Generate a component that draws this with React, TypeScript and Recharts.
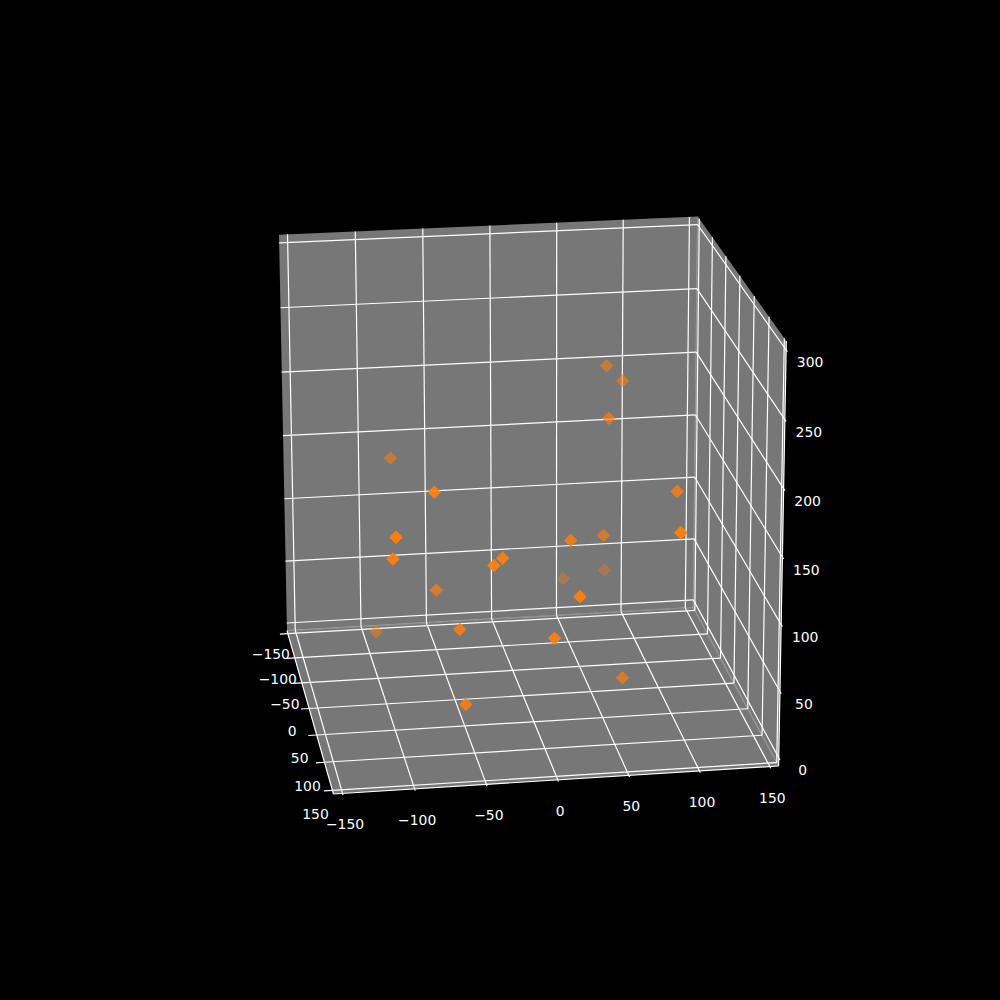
import React from 'react';
import { ScatterChart, Scatter, XAxis, YAxis, ReferenceArea, ReferenceLine } from 'recharts';

const xTicks = [-150, -100, -50, 0, 50, 100, 150];
const yTicks = [-150, -100, -50, 0, 50, 100, 150];
const zTicks = [0, 50, 100, 150, 200, 250, 300];

const xValues = [70, 82, 65, -86, -72, -104, -104, -61, -33, -24, -96, -52, -48, 13, 76, 31, 65, 54, 86, 28, 108, 96];
const yValues = [-54, -54, -15, -73, 62, 100, 81, -15, 81, 62, -92, 42, 42, 62, -15, 23, -35, -150, -150, 81, 23, 100];
const zValues = [226, 214, 199, 157, 177, 159, 136, 74, 127, 125, 14, 65, 7, 62, -3, 121, 102, 26, 31, 100, 154, 151];

const lim = 156.25;
const zLo = -6.25;
const zHi = 306.25;

// Screen positions of the box corners: they define the perspective camera.
const C = [287, 630.7], D = [693.3, 607.5], F = [778.6, 766], E = [333.5, 794], A = [279, 234.7], B = [697.7, 216.7];
const dx1 = D[0] - F[0], dx2 = E[0] - F[0], sx0 = C[0] - D[0] + F[0] - E[0];
const dy1 = D[1] - F[1], dy2 = E[1] - F[1], sy0 = C[1] - D[1] + F[1] - E[1];
const den = dx1 * dy2 - dx2 * dy1;
const g = (sx0 * dy2 - dx2 * sy0) / den, h = (dx1 * sy0 - sx0 * dy1) / den;
const a = D[0] - C[0] + g * D[0], b = E[0] - C[0] + h * E[0], c = C[0];
const d = D[1] - C[1] + g * D[1], e = E[1] - C[1] + h * E[1], f = C[1];
const m1 = (a - B[0] * g) / (B[0] - A[0]);
const m = m1 - 1;
const k = A[0] * m1 - c, l = A[1] * m1 - f;

function project(x: number, y: number, z: number) {
  const u = (x + lim) / (2 * lim), v = (y + lim) / (2 * lim), w = (z - zLo) / (zHi - zLo);
  const q = g * u + h * v + m * w + 1;
  return { sx: (a * u + b * v + k * w + c) / q, sy: (d * u + e * v + l * w + f) / q };
}

const fmt = (t: number) => (t < 0 ? '\u2212' + Math.abs(t) : String(t));

type Seg = [number, number, number, number, number, number];
const grid: Seg[] = [];
xTicks.forEach(t => {
  grid.push([t, -lim, zLo, t, lim, zLo], [t, -lim, zLo, t, -lim, zHi], [t, lim, zLo, t, lim + 3, zLo]);
});
yTicks.forEach(t => {
  grid.push([-lim, t, zLo, lim, t, zLo], [lim, t, zLo, lim, t, zHi], [-lim, t, zLo, -lim - 6, t, zLo]);
});
zTicks.forEach(t => {
  grid.push([-lim, -lim, t, lim, -lim, t], [lim, -lim, t, lim, lim, t], [lim, lim, t, lim, lim + 4, t]);
});
const axes: Seg[] = [[-lim, lim, zLo, lim, lim, zLo], [-lim, -lim, zLo, -lim, lim, zLo], [lim, lim, zLo, lim, lim, zHi]];
const paneEdges: Seg[] = [[-lim, -lim, zLo, lim, -lim, zLo], [lim, -lim, zLo, lim, lim, zLo], [lim, -lim, zLo, lim, -lim, zHi]];
const panes = [
  [[-lim, -lim, zLo], [lim, -lim, zLo], [lim, -lim, zHi], [-lim, -lim, zHi]],
  [[-lim, -lim, zLo], [lim, -lim, zLo], [lim, lim, zLo], [-lim, lim, zLo]],
  [[lim, -lim, zLo], [lim, lim, zLo], [lim, lim, zHi], [lim, -lim, zHi]],
];

const labels = [
  ...xTicks.map(t => { const p = project(t, lim, zLo); return { sx: p.sx + 2.5, sy: p.sy + 31, text: fmt(t) }; }),
  ...yTicks.map(t => { const p = project(-lim, t, zLo); return { sx: p.sx - 17, sy: p.sy + 22 + (2 * t) / 150, text: fmt(t) }; }),
  ...zTicks.map(t => { const p = project(lim, lim, t); return { sx: p.sx + 24, sy: p.sy + 12.5, text: fmt(t) }; }),
];
const points = xValues.map((x, i) => ({ ...project(x, yValues[i], zValues[i]), depth: yValues[i] }));

const paneShape = (pts: { sx: number; sy: number }[], x1: number, x2: number, y1: number, y2: number) => (p: any) => {
  const s = pts.map(q => `${p.x + ((q.sx - x1) / (x2 - x1)) * p.width},${p.y + ((q.sy - y1) / (y2 - y1)) * p.height}`).join(' ');
  return <polygon points={s} fill="#777777" />;
};
const line = (s: Seg, key: string, opacity: number) => {
  const p = project(s[0], s[1], s[2]), q = project(s[3], s[4], s[5]);
  return <ReferenceLine key={key} segment={[{ x: p.sx, y: p.sy }, { x: q.sx, y: q.sy }]} stroke="#fff" strokeOpacity={opacity} strokeWidth={1.2} />;
};

export default function App() {
  return (
    <div style={{ position: 'absolute', left: 0, top: 0, width: 1000, height: 1000, background: '#000' }}>
      <ScatterChart width={1000} height={1000} margin={{ top: 0, right: 0, bottom: 0, left: 0 }}>
        <XAxis type="number" dataKey="sx" domain={[0, 1000]} hide />
        <YAxis type="number" dataKey="sy" domain={[0, 1000]} reversed hide />
        {panes.map((pn, i) => {
          const pts = pn.map(q => project(q[0], q[1], q[2]));
          const xs = pts.map(q => q.sx), ys = pts.map(q => q.sy);
          const x1 = Math.min(...xs), x2 = Math.max(...xs), y1 = Math.min(...ys), y2 = Math.max(...ys);
          return <ReferenceArea key={i} x1={x1} x2={x2} y1={y1} y2={y2} shape={paneShape(pts, x1, x2, y1, y2)} />;
        })}
        {paneEdges.map((s, i) => line(s, 'e' + i, 0.35))}
        {grid.map((s, i) => line(s, 'g' + i, 1))}
        {axes.map((s, i) => line(s, 'a' + i, 1))}
        <Scatter
          isAnimationActive={false}
          data={points}
          shape={(p: any) => (
            <polygon
              points={`${p.cx},${p.cy - 6.8} ${p.cx + 6.8},${p.cy} ${p.cx},${p.cy + 6.8} ${p.cx - 6.8},${p.cy}`}
              fill="#ff7f0e"
              fillOpacity={0.35 + (p.payload.depth + 150) / 385}
            />
          )}
        />
        <Scatter
          isAnimationActive={false}
          data={labels}
          shape={(p: any) => (
            <text x={p.cx} y={p.cy} textAnchor="middle" dominantBaseline="central" fill="#fff" fontSize={13.9} fontFamily="DejaVu Sans">
              {p.payload.text}
            </text>
          )}
        />
      </ScatterChart>
    </div>
  );
}
